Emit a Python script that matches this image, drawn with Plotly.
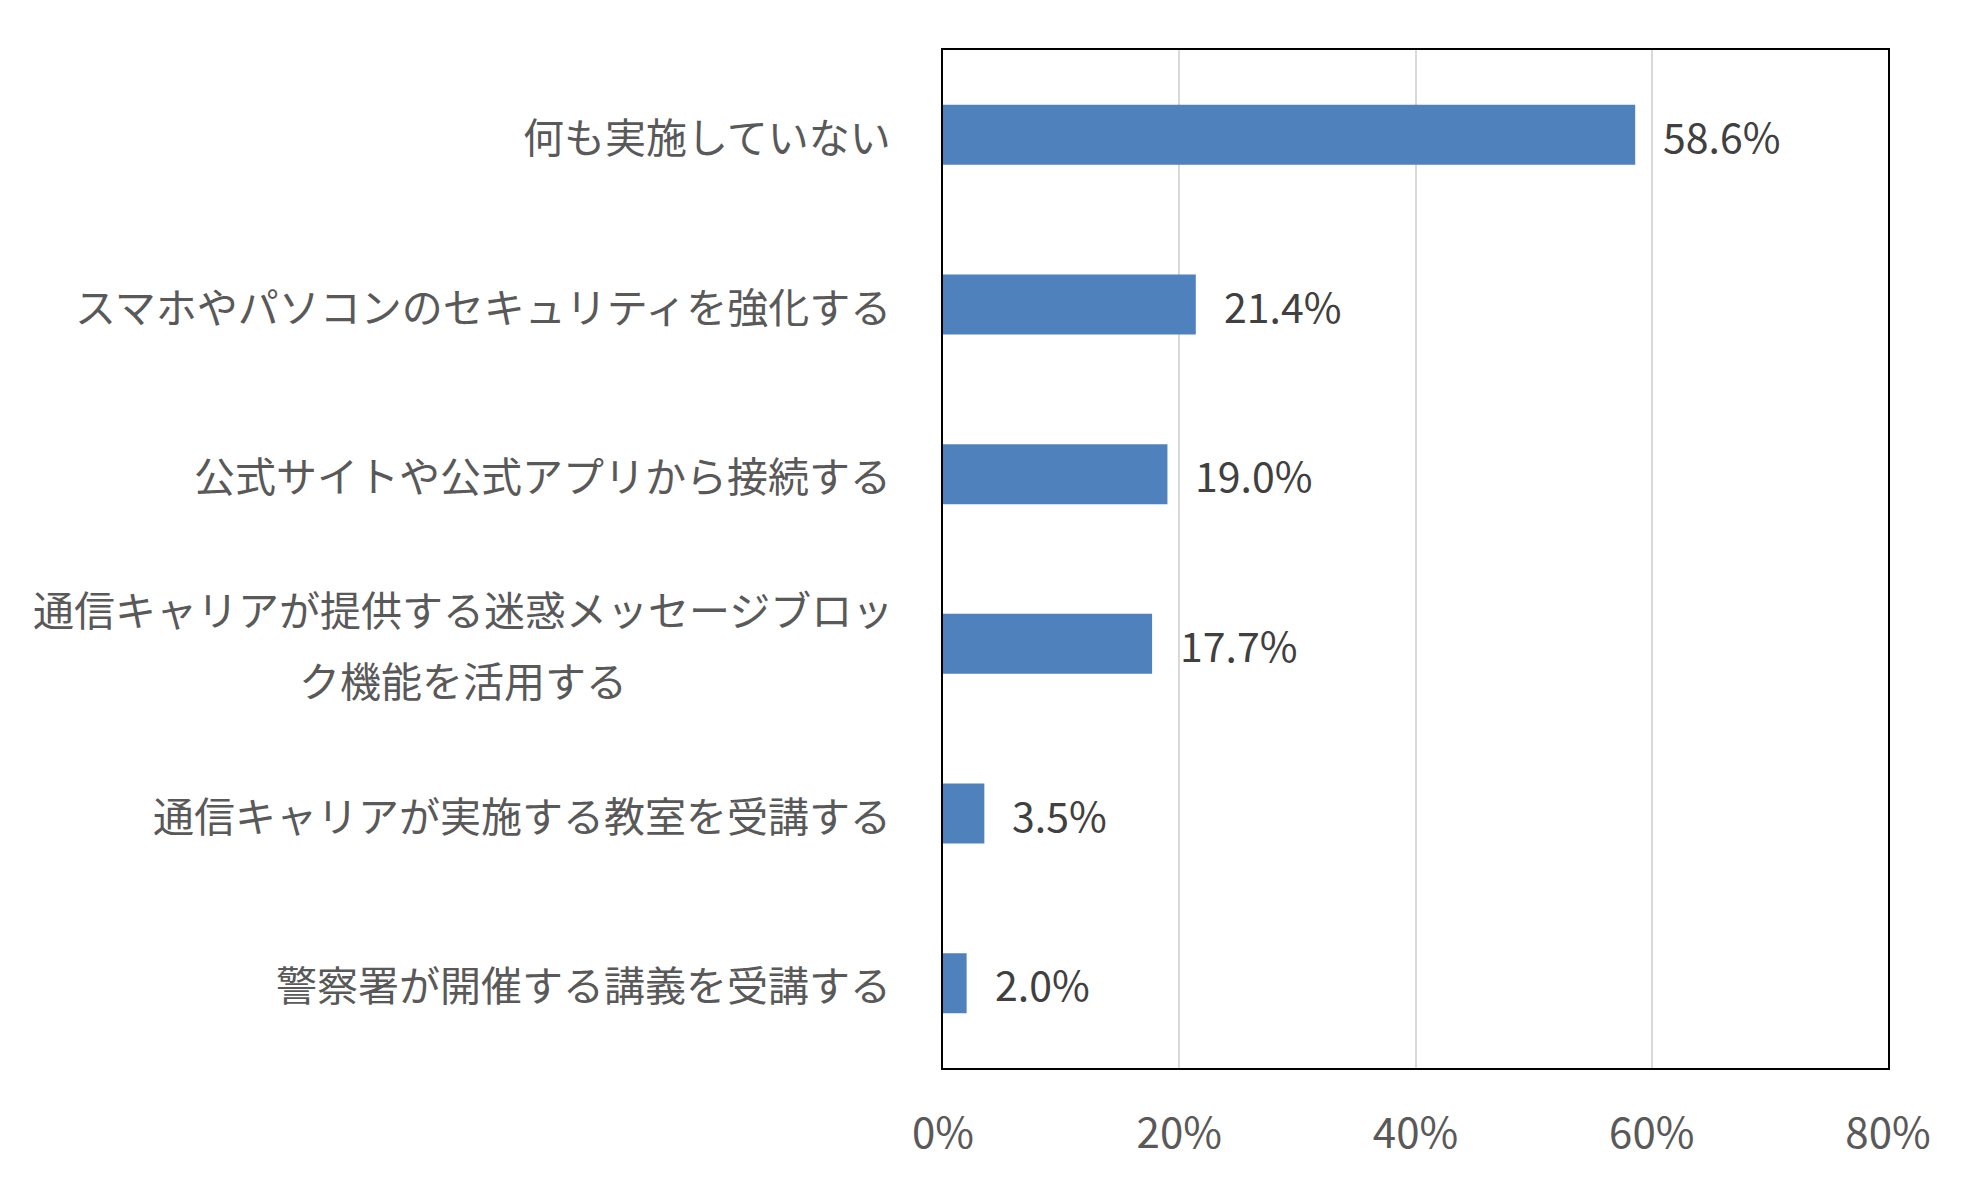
import plotly.graph_objects as go

# survey answers (top to bottom) and share of respondents in %
categories = [
    "何も実施していない",
    "スマホやパソコンのセキュリティを強化する",
    "公式サイトや公式アプリから接続する",
    "通信キャリアが提供する迷惑メッセージブロッ<br>ク機能を活用する",
    "通信キャリアが実施する教室を受講する",
    "警察署が開催する講義を受講する",
]
values = [58.6, 21.4, 19.0, 17.7, 3.5, 2.0]
x_ticks = [0, 20, 40, 60, 80]
x_tick_text = ["0%", "20%", "40%", "60%", "80%"]

FONT = "Noto Sans CJK JP"
BAR_COLOR = "#4f81bd"
LABEL_SIZE = 41

fig = go.Figure()
fig.add_trace(go.Bar(
    x=values, y=categories, orientation="h",
    marker=dict(color=BAR_COLOR, line=dict(width=0)),
    hoverinfo="skip",
))

annotations = []
# value labels right of each bar
for cat, v in zip(categories, values):
    annotations.append(dict(
        x=v, y=cat, xref="x", yref="y", text=f"{v:.1f}%",
        xanchor="left", yanchor="middle", xshift=26, showarrow=False,
        font=dict(family=FONT, size=41, color="#404040"),
    ))

# category labels left of the plot; wrapped ones get centred lines
for cat in categories:
    lines = cat.split("<br>")
    if len(lines) == 1:
        annotations.append(dict(
            x=0, y=cat, xref="paper", yref="y", text=cat,
            xanchor="right", yanchor="middle", xshift=-50, showarrow=False,
            font=dict(family=FONT, size=LABEL_SIZE, color="#595959"),
        ))
    else:
        first_w = len(lines[0]) * LABEL_SIZE
        n = len(lines)
        for i, ln in enumerate(lines):
            annotations.append(dict(
                x=0, y=cat, xref="paper", yref="y", text=ln,
                xanchor="center", yanchor="middle",
                xshift=-50 - first_w / 2,
                yshift=(n - 1) * 35.5 - i * 71, showarrow=False,
                font=dict(family=FONT, size=LABEL_SIZE, color="#595959"),
            ))

# page body has an 8px margin, so the figure is trimmed by that much
fig.update_layout(
    width=1972, height=1181,
    margin=dict(l=935, r=92, t=42, b=121),
    paper_bgcolor="white", plot_bgcolor="white",
    bargap=0.646, showlegend=False,
    annotations=annotations,
    font=dict(family=FONT),
)
fig.update_xaxes(
    range=[0, 80], tickvals=x_ticks, ticktext=x_tick_text,
    showgrid=True, gridcolor="#d9d9d9", gridwidth=2,
    zeroline=False, showline=True, linecolor="black", linewidth=2, mirror=True,
    ticks="outside", ticklen=0, ticklabelstandoff=28,
    tickfont=dict(family=FONT, size=42, color="#595959"),
)
fig.update_yaxes(
    autorange="reversed", showticklabels=False, showgrid=False,
    zeroline=False, showline=True, linecolor="black", linewidth=2, mirror=True,
)

fig.write_html("out.html")
